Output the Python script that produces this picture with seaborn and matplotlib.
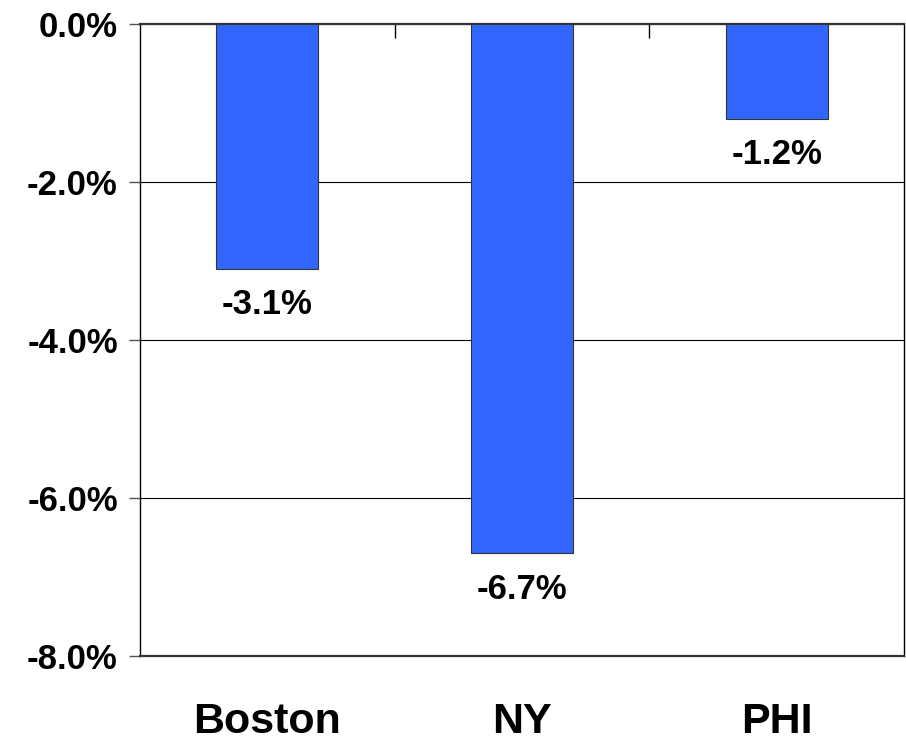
import pandas as pd
import matplotlib.pyplot as plt
import seaborn as sns
from matplotlib.ticker import FuncFormatter, FixedLocator

cities = ["Boston", "NY", "PHI"]
changes = [-3.1, -6.7, -1.2]
label_texts = ["-3.1%", "-6.7%", "-1.2%"]
y_ticks = [0, -2, -4, -6, -8]

df = pd.DataFrame({"City": cities, "Change": changes})

sns.set_style("white")
plt.rcParams["font.family"] = ["Liberation Sans", "DejaVu Sans"]
plt.rcParams["text.color"] = "black"
plt.rcParams["xtick.color"] = "black"
plt.rcParams["ytick.color"] = "black"

fig = plt.figure(figsize=(9.06, 7.46), dpi=100)
ax = fig.add_axes([0.1545, 0.1206, 0.8433, 0.8472])

sns.barplot(data=df, x="City", y="Change", color="#3366FF", width=0.4,
            edgecolor="#333333", linewidth=0.8, saturation=1, ax=ax, zorder=3)

ax.set_ylim(-8, 0)
ax.set_xlim(-0.5, 2.5)
ax.set_yticks(y_ticks)
ax.yaxis.set_major_formatter(FuncFormatter(lambda v, p: f"{v:.1f}%"))
ax.grid(axis="y", color="black", linewidth=0.8, zorder=0)
ax.set_xlabel("")
ax.set_ylabel("")

ax.tick_params(axis="y", labelsize=25, length=8, width=1, color="#555555",
               labelcolor="black", direction="out", pad=8, left=True)
ax.tick_params(axis="x", labelsize=31, length=0, pad=33, labelcolor="black")
for lab in ax.get_yticklabels() + ax.get_xticklabels():
    lab.set_fontweight("bold")

ax.xaxis.set_minor_locator(FixedLocator([0.5, 1.5]))
ax.tick_params(axis="x", which="minor", top=True, bottom=False,
               direction="in", length=10, width=1, color="black")

for s in ax.spines.values():
    s.set_visible(True)
    s.set_color("black")
    s.set_linewidth(1)
ax.spines["bottom"].set_color("#333333")
ax.spines["bottom"].set_linewidth(1.6)
ax.spines["top"].set_color("#333333")
ax.spines["top"].set_linewidth(1.6)

for i, (v, t) in enumerate(zip(changes, label_texts)):
    ax.annotate(t, (i, v), xytext=(0, -14), textcoords="offset points",
                ha="center", va="top", fontsize=25, fontweight="bold",
                color="black")

fig.savefig("out.png", dpi=100)
